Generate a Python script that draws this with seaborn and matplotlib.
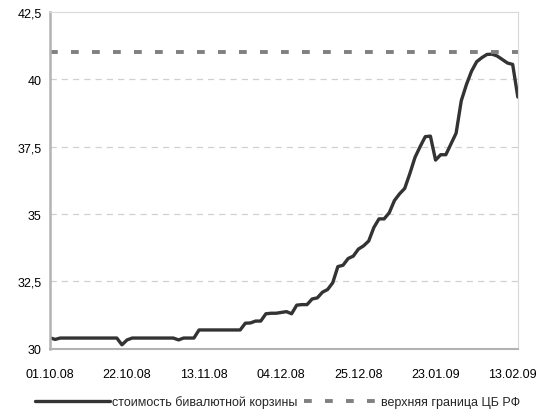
# Стоимость бивалютной корзины, окт. 2008 - фев. 2009
import pandas as pd
import seaborn as sns
import matplotlib.pyplot as plt
from matplotlib.ticker import FixedLocator, FuncFormatter

# значения по торговым дням
basket = [30.41, 30.35, 30.40, 30.40, 30.40, 30.40, 30.40, 30.40, 30.40, 30.40,
          30.40, 30.40, 30.40, 30.40, 30.15, 30.33, 30.40, 30.40, 30.40, 30.40,
          30.40, 30.40, 30.40, 30.40, 30.40, 30.33, 30.40, 30.40, 30.40, 30.70,
          30.70, 30.70, 30.70, 30.70, 30.70, 30.70, 30.70, 30.70, 30.95, 30.96,
          31.03, 31.03, 31.30, 31.32, 31.32, 31.35, 31.38, 31.30, 31.62, 31.64,
          31.64, 31.85, 31.89, 32.10, 32.20, 32.45, 33.05, 33.10, 33.35, 33.44,
          33.70, 33.82, 34.00, 34.50, 34.82, 34.82, 35.05, 35.50, 35.75, 35.95,
          36.50, 37.10, 37.50, 37.87, 37.89, 37.00, 37.20, 37.20, 37.60, 38.00,
          39.20, 39.80, 40.30, 40.65, 40.80, 40.92, 40.93, 40.86, 40.73, 40.60,
          40.55, 39.34]
upper_bound = [41.0] * len(basket)
tick_labels = ['01.10.08', '22.10.08', '13.11.08', '04.12.08',
               '25.12.08', '23.01.09', '13.02.09']
tick_step = 15

df = pd.DataFrame({'day': range(len(basket)), 'basket': basket, 'upper': upper_bound})

sns.set_style('white')
plt.rcParams['font.family'] = ['Liberation Sans', 'DejaVu Sans']

fig = plt.figure(figsize=(5.55, 4.14), dpi=100)
ax = fig.add_axes([0.09, 0.155, 0.843, 0.814])

sns.lineplot(x='day', y='basket', data=df, ax=ax, color='#333333', linewidth=2.4,
             label='стоимость бивалютной корзины')
sns.lineplot(x='day', y='upper', data=df, ax=ax, color='#808080', linewidth=2.8,
             dashes=False, label='верхняя граница ЦБ РФ')
ax.lines[1].set_dashes((2.0, 3.4))

ax.set_xlim(0, len(basket) - 1)
ax.set_ylim(30, 42.5)
ax.xaxis.set_major_locator(FixedLocator([i * tick_step for i in range(len(tick_labels))]))
ax.set_xticklabels(tick_labels)
ax.set_yticks([30, 32.5, 35, 37.5, 40, 42.5])
ax.yaxis.set_major_formatter(FuncFormatter(lambda v, p: f'{v:g}'.replace('.', ',')))
ax.tick_params(axis='both', labelsize=9, colors='#999999', labelcolor='black',
               length=4, width=1, direction='out', pad=10)
ax.tick_params(axis='y', length=0, pad=6)

for y in [32.5, 35, 37.5, 40]:
    ax.axhline(y, color='#d0d0d0', linewidth=0.9, linestyle=(0, (5, 4)), zorder=0)

ax.spines['left'].set_color('#b3b3b3')
ax.spines['left'].set_linewidth(1.8)
ax.spines['bottom'].set_color('#b3b3b3')
ax.spines['bottom'].set_linewidth(1.5)
ax.spines['top'].set_color('#d9d9d9')
ax.spines['right'].set_color('#d9d9d9')
ax.set_xlabel('')
ax.set_ylabel('')

handles, labels = ax.get_legend_handles_labels()
ax.get_legend().remove()
fig.legend(handles, labels, loc='lower center', bbox_to_anchor=(0.5, -0.015), ncol=2,
           frameon=False, fontsize=9, handlelength=6, columnspacing=0.6,
           handletextpad=0.1)

plt.savefig('out.png')
